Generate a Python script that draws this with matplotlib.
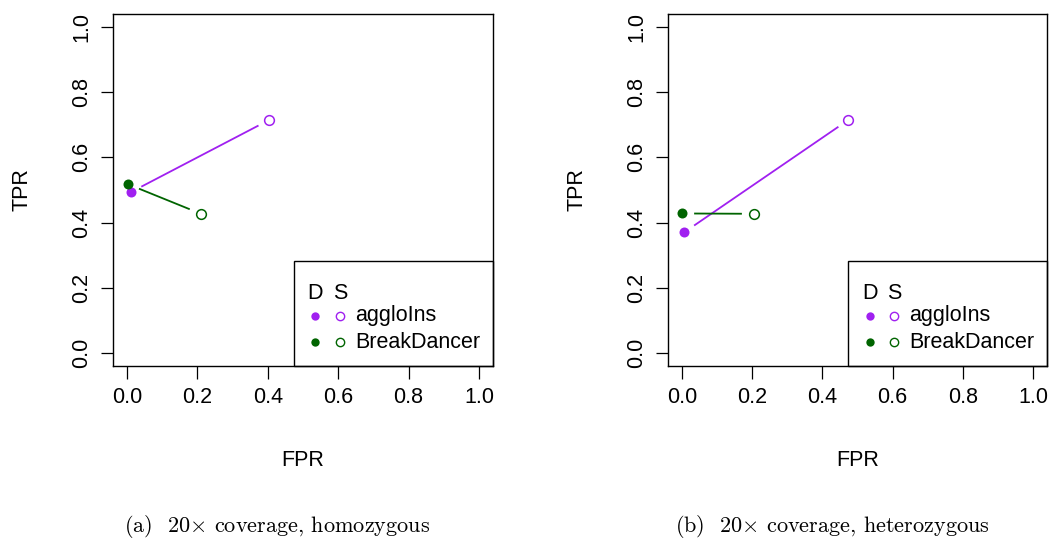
import matplotlib
matplotlib.use("Agg")
import matplotlib.pyplot as plt
from matplotlib.patches import Rectangle

plt.rcParams['font.family'] = ['Liberation Sans', 'DejaVu Sans']
plt.rcParams['mathtext.fontset'] = 'cm'

methods = ['aggloIns', 'BreakDancer']
colors = ['#A020F0', '#006400']

# (FPR, TPR) for default (D) and suggested (S) settings
homo_D = [(0.010, 0.493), (0.002, 0.518)]
homo_S = [(0.404, 0.715), (0.210, 0.427)]
het_D = [(0.006, 0.370), (0.000, 0.428)]
het_S = [(0.474, 0.715), (0.205, 0.427)]

ticks = [0.0, 0.2, 0.4, 0.6, 0.8, 1.0]
tick_labels = ['0.0', '0.2', '0.4', '0.6', '0.8', '1.0']
captions = [r'(a)  20$\times$ coverage, homozygous',
            r'(b)  20$\times$ coverage, heterozygous']

fig = plt.figure(figsize=(10.5, 5.43), dpi=100)
ax1 = fig.add_axes([113 / 1050, 1 - 366 / 543, 380 / 1050, 352 / 543])
ax2 = fig.add_axes([668 / 1050, 1 - 366 / 543, 379 / 1050, 352 / 543])

fs = 15.5
gap = 13  # pixels left blank around points (R type="b" look)


def gapped_line(ax, p, q, color):
    a = ax.transData.transform(p)
    b = ax.transData.transform(q)
    d = b - a
    n = (d ** 2).sum() ** 0.5
    u = d / n
    a2 = ax.transData.inverted().transform(a + u * gap)
    b2 = ax.transData.inverted().transform(b - u * gap)
    ax.plot([a2[0], b2[0]], [a2[1], b2[1]], color=color, lw=1.3)


for ax, D, S, cap, cx in [(ax1, homo_D, homo_S, captions[0], 277 / 1050),
                          (ax2, het_D, het_S, captions[1], 832 / 1050)]:
    ax.set_xlim(-0.04, 1.04)
    ax.set_ylim(-0.04, 1.04)
    for i in range(len(methods)):
        gapped_line(ax, D[i], S[i], colors[i])
        ax.plot(D[i][0], D[i][1], 'o', color=colors[i], ms=7.2, mec='none')
        ax.plot(S[i][0], S[i][1], 'o', mfc='white', mec=colors[i], ms=7.0, mew=1.1)

    ax.set_xticks(ticks)
    ax.set_xticklabels(tick_labels)
    ax.set_yticks(ticks)
    ax.set_yticklabels(tick_labels, rotation=90, va='center')
    ax.tick_params(labelsize=fs, length=9, width=0.9, pad=6)
    ax.set_xlabel('FPR', fontsize=fs, labelpad=30)
    ax.set_ylabel('TPR', fontsize=fs, labelpad=28)
    for sp in ax.spines.values():
        sp.set_linewidth(1.0)

    # legend box in the bottom-right corner
    ax.add_patch(Rectangle((0.476, 0), 0.524, 0.299, transform=ax.transAxes,
                           fill=False, lw=1.0, ec='black', clip_on=False))
    ax.text(0.532, 0.207, 'D', transform=ax.transAxes, fontsize=fs, ha='center', va='center')
    ax.text(0.597, 0.207, 'S', transform=ax.transAxes, fontsize=fs, ha='center', va='center')
    for i, (m, c) in enumerate(zip(methods, colors)):
        yy = [0.143, 0.067][i]
        ax.plot(0.532, yy, 'o', color=c, ms=6.0, mec='none', transform=ax.transAxes)
        ax.plot(0.597, yy, 'o', mfc='white', mec=c, ms=6.0, mew=1.0, transform=ax.transAxes)
        ax.text(0.637, yy, m, transform=ax.transAxes, fontsize=fs, va='center')

    fig.text(cx, 0.03, cap, fontsize=16, ha='center', va='center', family=['cmr10', 'DejaVu Serif'])

fig.savefig('out.png', dpi=100)
